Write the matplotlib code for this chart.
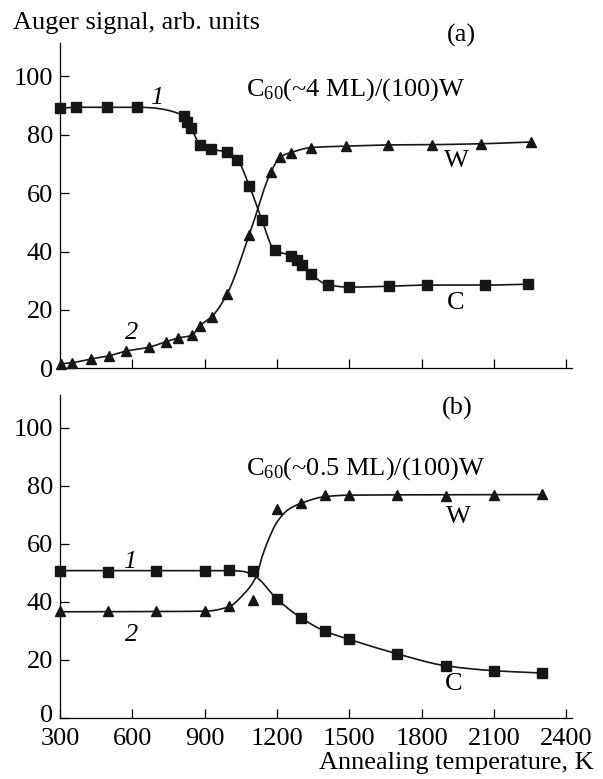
import matplotlib
matplotlib.use("Agg")
import matplotlib.pyplot as plt
import matplotlib.transforms as mtransforms
import numpy as np

plt.rcParams['font.family'] = ['Liberation Serif', 'DejaVu Serif']
plt.rcParams['mathtext.fontset'] = 'custom'
plt.rcParams['mathtext.rm'] = 'Liberation Serif'
plt.rcParams['mathtext.it'] = 'Liberation Serif:italic'

# (a) C60 (~4 ML) on W(100): carbon (1) and tungsten (2) Auger signals
a_c_temp = [300, 365, 495, 620, 815, 826, 843, 881, 926, 994, 1036, 1085, 1138,
            1190, 1258, 1283, 1305, 1342, 1411, 1499, 1664, 1823, 2062, 2241]
a_c_sig = [89.0, 89.4, 89.4, 89.4, 86.5, 84.3, 82.4, 76.5, 75.0, 74.1, 71.4, 62.6, 50.7,
           40.4, 38.6, 37.1, 35.3, 32.2, 28.6, 27.8, 28.1, 28.5, 28.5, 28.8]
a_w_temp = [303, 348, 428, 504, 574, 668, 739, 791, 847, 879, 930, 994, 1085,
            1175, 1214, 1258, 1342, 1488, 1661, 1842, 2047, 2254]
a_w_sig = [1.5, 1.9, 3.2, 4.3, 5.9, 7.2, 9.1, 10.4, 11.3, 14.5, 17.7, 25.6, 45.7,
           67.2, 72.4, 73.9, 75.6, 76.1, 76.5, 76.6, 76.9, 77.5]

# (b) C60 (~0.5 ML) on W(100)
b_temp = [300, 500, 700, 900, 1000, 1100, 1200, 1300, 1400, 1500, 1700, 1900, 2100, 2300]
b_c_sig = [50.6, 50.4, 50.7, 50.7, 50.9, 50.6, 41.0, 34.5, 29.9, 27.1, 22.1, 18.0, 16.3, 15.5]
b_w_sig = [36.8, 36.8, 36.8, 36.8, 38.6, 40.7, 72.1, 74.0, 76.7, 77.0, 77.0, 76.6, 77.0, 77.2]

# guide curves for (b) (they do not pass through every point)
b_c_fit_temp = [300, 1000, 1060, 1113, 1200, 1300, 1400, 1500, 1700, 1900, 2100, 2300]
b_c_fit_sig = [50.8, 50.8, 50.5, 48.6, 41.0, 34.5, 29.9, 27.1, 22.1, 18.0, 16.3, 15.5]
b_w_fit_temp = [300, 900, 1000, 1060, 1113, 1140, 1170, 1200, 1250, 1300, 1400, 1500, 2300]
b_w_fit_sig = [36.6, 36.8, 38.3, 42.5, 48.6, 56.0, 62.5, 67.5, 72.0, 74.0, 76.3, 76.8, 77.0]

xticks = [300, 600, 900, 1200, 1500, 1800, 2100, 2400]
yticks = [0, 20, 40, 60, 80, 100]

FS = 19


def pchip(x, y, xs):
    # monotone cubic Hermite curve through the knots
    x = np.asarray(x, float)
    y = np.asarray(y, float)
    h = np.diff(x)
    d = np.diff(y) / h
    m = np.zeros_like(y)
    for k in range(1, len(x) - 1):
        if d[k - 1] * d[k] > 0:
            w1 = 2 * h[k] + h[k - 1]
            w2 = h[k] + 2 * h[k - 1]
            m[k] = (w1 + w2) / (w1 / d[k - 1] + w2 / d[k])
    m[0], m[-1] = d[0], d[-1]
    i = np.clip(np.searchsorted(x, xs) - 1, 0, len(h) - 1)
    t = (xs - x[i]) / h[i]
    return ((2 * t**3 - 3 * t**2 + 1) * y[i] + (t**3 - 2 * t**2 + t) * h[i] * m[i]
            + (-2 * t**3 + 3 * t**2) * y[i + 1] + (t**3 - t**2) * h[i] * m[i + 1])


def curve(ax, xk, yk):
    xs = np.linspace(xk[0], xk[-1], 600)
    ax.plot(xs, pchip(xk, yk, xs), color='#161616', lw=1.2, zorder=2)


def style(ax):
    ax.set_xlim(300, 2425)
    ax.set_ylim(0, 111.3)
    ax.set_xticks(xticks)
    ax.set_yticks(yticks)
    for s in ('top', 'right'):
        ax.spines[s].set_visible(False)
    for s in ('left', 'bottom'):
        ax.spines[s].set_linewidth(0.9)
    ax.tick_params(direction='in', length=6.5, width=0.9, labelsize=FS)
    ax.tick_params(axis='y', pad=5)
    ax.tick_params(axis='x', pad=7)


fig = plt.figure(figsize=(6.03, 7.79), dpi=100)
ax1 = fig.add_axes([0.0995, 0.5272, 0.8495, 0.4172])
ax2 = fig.add_axes([0.0995, 0.0783, 0.8495, 0.4146])

mk = dict(color='#161616', ls='none', zorder=3, clip_on=False)

# panel (a)
curve(ax1, a_c_temp, a_c_sig)
curve(ax1, a_w_temp, a_w_sig)
ax1.plot(a_c_temp, a_c_sig, marker='s', ms=6.5, **mk)
ax1.plot(a_w_temp, a_w_sig, marker='^', ms=7, **mk)
style(ax1)
ax1.tick_params(labelbottom=False)
ax1.text(1965, 114.0, '(a)', fontsize=FS, ha='center', va='center', clip_on=False)
ax1.text(1073, 95.5, r'C$_{60}$(~4 ML)/(100)W', fontsize=FS, ha='left', va='center')
ax1.text(701, 92.6, '1', fontsize=FS, style='italic', ha='center', va='center')
ax1.text(595, 12.0, '2', fontsize=FS, style='italic', ha='center', va='center')
ax1.text(1943, 71.0, 'W', fontsize=FS, ha='center', va='center')
ax1.text(1943, 22.3, 'C', fontsize=FS, ha='center', va='center')

# panel (b)
curve(ax2, b_c_fit_temp, b_c_fit_sig)
curve(ax2, b_w_fit_temp, b_w_fit_sig)
ax2.plot(b_temp, b_c_sig, marker='s', ms=6.5, **mk)
ax2.plot(b_temp, b_w_sig, marker='^', ms=7, **mk)
style(ax2)
ax2.text(1950, 106.6, '(b)', fontsize=FS, ha='center', va='center')
ax2.text(1073, 85.9, r'C$_{60}$(~0.5 ML)/(100)W', fontsize=FS, ha='left', va='center')
ax2.text(590, 53.7, '1', fontsize=FS, style='italic', ha='center', va='center')
ax2.text(595, 28.5, '2', fontsize=FS, style='italic', ha='center', va='center')
ax2.text(1951, 69.2, 'W', fontsize=FS, ha='center', va='center')
ax2.text(1935, 11.6, 'C', fontsize=FS, ha='center', va='center')

# lift the lower "0" a little so it clears the "300" below it
zero = ax2.get_yticklabels()[0]
zero.set_transform(zero.get_transform()
                   + mtransforms.ScaledTranslation(0, 0.045, fig.dpi_scale_trans))

fig.text(0.021, 0.9634, 'Auger signal, arb. units', fontsize=FS, ha='left', va='baseline')
fig.text(0.984, 0.0205, 'Annealing temperature, K', fontsize=FS, ha='right', va='center')

fig.savefig('out.png', dpi=100)
